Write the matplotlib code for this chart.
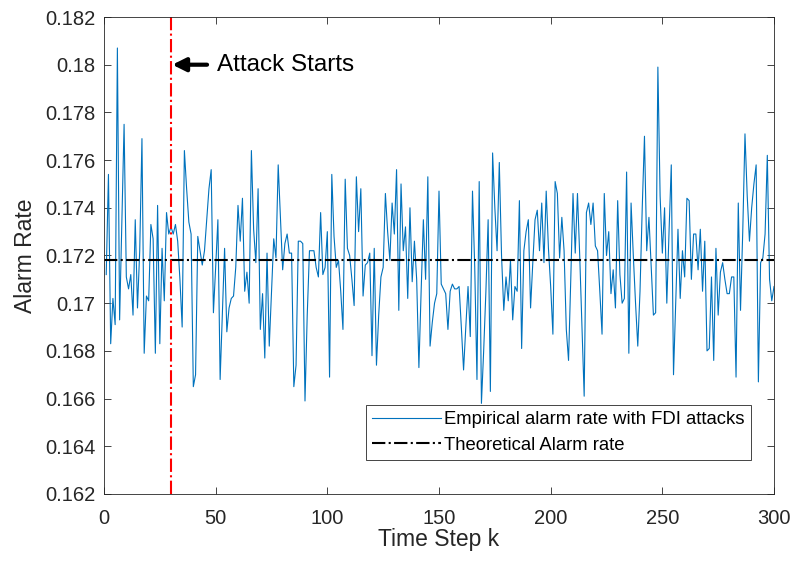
import numpy as np
import matplotlib
matplotlib.use('Agg')
from matplotlib import pyplot as plt
from matplotlib.ticker import FuncFormatter

plt.rcParams['font.family'] = ['Liberation Sans', 'DejaVu Sans']

# empirical alarm rate per time step
alarm_rate = [
    0.1712, 0.1754, 0.1683, 0.1702, 0.1691, 0.1807, 0.1693, 0.1734, 0.1775, 0.1711,
    0.1706, 0.1712, 0.1695, 0.1735, 0.1698, 0.1722, 0.1769, 0.1679, 0.1703, 0.1701,
    0.1733, 0.1727, 0.1679, 0.1741, 0.1683, 0.1723, 0.1701, 0.1738, 0.1729, 0.1732,
    0.1729, 0.1733, 0.1726, 0.1710, 0.1690, 0.1764, 0.1748, 0.1734, 0.1729, 0.1665,
    0.1670, 0.1728, 0.1722, 0.1716, 0.1722, 0.1735, 0.1748, 0.1756, 0.1696, 0.1715,
    0.1735, 0.1668, 0.1695, 0.1723, 0.1688, 0.1698, 0.1702, 0.1703, 0.1715, 0.1741,
    0.1726, 0.1744, 0.1705, 0.1713, 0.1700, 0.1764, 0.1731, 0.1717, 0.1748, 0.1689,
    0.1704, 0.1677, 0.1721, 0.1682, 0.1705, 0.1727, 0.1719, 0.1758, 0.1736, 0.1714,
    0.1725, 0.1729, 0.1721, 0.1721, 0.1665, 0.1674, 0.1726, 0.1726, 0.1725, 0.1659,
    0.1695, 0.1722, 0.1722, 0.1722, 0.1715, 0.1711, 0.1738, 0.1712, 0.1715, 0.1730,
    0.1669, 0.1754, 0.1728, 0.1715, 0.1718, 0.1705, 0.1689, 0.1752, 0.1723, 0.1720,
    0.1710, 0.1699, 0.1753, 0.1730, 0.1748, 0.1703, 0.1716, 0.1717, 0.1721, 0.1678,
    0.1723, 0.1674, 0.1695, 0.1711, 0.1715, 0.1746, 0.1730, 0.1718, 0.1742, 0.1729,
    0.1756, 0.1697, 0.1750, 0.1722, 0.1732, 0.1702, 0.1740, 0.1709, 0.1726, 0.1710,
    0.1673, 0.1705, 0.1735, 0.1710, 0.1753, 0.1682, 0.1692, 0.1700, 0.1704, 0.1747,
    0.1708, 0.1706, 0.1704, 0.1689, 0.1705, 0.1708, 0.1706, 0.1706, 0.1707, 0.1690,
    0.1672, 0.1690, 0.1707, 0.1686, 0.1747, 0.1715, 0.1668, 0.1751, 0.1658, 0.1680,
    0.1705, 0.1735, 0.1663, 0.1763, 0.1740, 0.1722, 0.1759, 0.1720, 0.1697, 0.1711,
    0.1701, 0.1718, 0.1693, 0.1707, 0.1705, 0.1743, 0.1681, 0.1722, 0.1730, 0.1735,
    0.1698, 0.1717, 0.1735, 0.1739, 0.1722, 0.1742, 0.1717, 0.1747, 0.1723, 0.1707,
    0.1687, 0.1751, 0.1746, 0.1719, 0.1736, 0.1722, 0.1689, 0.1676, 0.1710, 0.1746,
    0.1721, 0.1746, 0.1720, 0.1690, 0.1661, 0.1738, 0.1742, 0.1733, 0.1742, 0.1724,
    0.1722, 0.1705, 0.1687, 0.1746, 0.1720, 0.1730, 0.1704, 0.1714, 0.1698, 0.1743,
    0.1712, 0.1700, 0.1702, 0.1755, 0.1679, 0.1742, 0.1720, 0.1700, 0.1682, 0.1705,
    0.1740, 0.1770, 0.1722, 0.1736, 0.1715, 0.1695, 0.1696, 0.1799, 0.1745, 0.1721,
    0.1740, 0.1700, 0.1730, 0.1758, 0.1670, 0.1700, 0.1731, 0.1702, 0.1722, 0.1711,
    0.1744, 0.1743, 0.1710, 0.1729, 0.1729, 0.1714, 0.1731, 0.1705, 0.1726, 0.1680,
    0.1681, 0.1711, 0.1676, 0.1723, 0.1695, 0.1713, 0.1717, 0.1710, 0.1704, 0.1704,
    0.1711, 0.1711, 0.1669, 0.1742, 0.1697, 0.1730, 0.1771, 0.1745, 0.1726, 0.1740,
    0.1750, 0.1758, 0.1667, 0.1717, 0.1719, 0.1729, 0.1762, 0.1710, 0.1701, 0.1707,
]
steps = np.arange(1, len(alarm_rate) + 1)
theory_rate = 0.1718
attack_step = 30

fig = plt.figure(figsize=(7.95, 5.65), dpi=100)
ax = fig.add_axes([0.1308, 0.1257, 0.8428, 0.8442])

ax.plot(steps, alarm_rate, color='#0072BD', lw=0.8,
        label='Empirical alarm rate with FDI attacks')
ax.plot([0, 300], [theory_rate, theory_rate], color='k', ls='-.', lw=1.5,
        label='Theoretical Alarm rate')
ax.axvline(attack_step, color='red', ls='-.', lw=1.5)

ax.annotate('Attack Starts', xy=(30.6, 0.18), xytext=(50.5, 0.18),
            fontsize=17.5, va='center', ha='left',
            arrowprops=dict(arrowstyle='-|>', color='k', lw=3,
                            mutation_scale=20, shrinkA=5, shrinkB=0))

ax.set_xlim(0, 300)
ax.set_ylim(0.162, 0.182)
ax.set_xticks(np.arange(0, 301, 50))
ax.set_yticks(np.arange(0.162, 0.1821, 0.002))
ax.yaxis.set_major_formatter(FuncFormatter(lambda v, p: f'{v:g}'))
ax.tick_params(direction='in', top=True, right=True, labelsize=14.5,
               colors='#262626', length=5, width=0.6)
ax.tick_params(axis='x', pad=11)
ax.tick_params(axis='y', pad=6)
for s in ax.spines.values():
    s.set_color('#262626')
    s.set_linewidth(0.6)

ax.set_xlabel('Time Step k', fontsize=16.5, color='#262626', labelpad=0)
ax.set_ylabel('Alarm Rate', fontsize=16.5, color='#262626', labelpad=6)

leg = ax.legend(loc='lower right', bbox_to_anchor=(0.966, 0.071), fontsize=13.3,
                fancybox=False, framealpha=1, edgecolor='#262626',
                borderaxespad=0, handlelength=3.7, borderpad=0.35,
                labelspacing=0.45, handletextpad=0.2)
leg.get_frame().set_linewidth(0.6)

fig.savefig('out.png', dpi=100)
